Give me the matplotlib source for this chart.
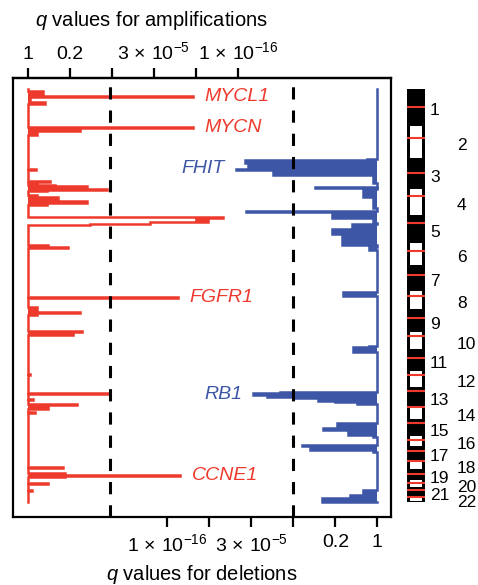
import matplotlib.pyplot as plt
from matplotlib.patches import Rectangle
import numpy as np

plt.rcParams['font.family'] = ['Liberation Sans', 'DejaVu Sans']
plt.rcParams['mathtext.fontset'] = 'custom'
plt.rcParams['mathtext.rm'] = 'Liberation Sans'
plt.rcParams['mathtext.it'] = 'Liberation Sans:italic'

RED = '#EE3A2C'
BLUE = '#3D56A6'

# chromosome sizes and centromeres, Mb
chrom_names = [str(i) for i in range(1, 23)]
chrom_len = [247.2, 242.8, 199.5, 191.3, 180.9, 170.9, 158.8, 146.3, 140.3, 135.4, 134.5,
             132.3, 114.1, 106.4, 100.3, 88.8, 78.8, 76.1, 63.8, 62.4, 46.9, 49.7]
centromere = [124, 93, 91, 50, 48, 60, 59, 45, 49, 40, 53, 35, 17, 17, 19, 36, 24, 17, 26,
              28, 13, 14]

# amplification score profile: segment boundaries (cumulative Mb) and one score per segment
amp_pos = [0, 14, 35, 51, 54, 88, 104, 262, 265, 268, 292, 319, 555, 562, 637, 646, 653, 667,
           673, 691, 698, 708, 736, 750, 778, 792, 805, 887, 894, 910, 923, 934, 941, 1083,
           1100, 1106, 1442, 1449, 1512, 1548, 1555, 1569, 1680, 1687, 1708, 1979, 1985, 2111,
           2115, 2120, 2152, 2158, 2187, 2194, 2222, 2243, 2250, 2622, 2629, 2666, 2680, 2687,
           2694, 2737, 2744, 2784, 2791, 2867]
amp_score = [0, 0.36, 0.05, 3.93, 0.05, 0.40, 0, 1.24, 3.93, 1.24, 0.21, 0, 0.19, 0, 0.52,
             0.21, 0, 0.64, 1.40, 1.88, 0.45, 0, 0.21, 0.71, 1.40, 0.45, 0, 4.64, 4.0, 4.29,
             2.90, 1.48, 0, 0.48, 0.95, 0, 3.57, 0, 0.21, 1.24, 0.21, 0, 1.29, 1.07, 0, 0.05,
             0, 1.93, 1.19, 0, 0.12, 0, 1.17, 0.48, 0, 0.17, 0, 0.83, 0, 0.88, 3.62, 0.88, 0,
             0.48, 0, 0.10, 0]
# broad 5p gain is drawn as an outline only
amp_open = (887, 941)

# deletion score profile
del_pos = [0, 489, 496, 514, 555, 562, 597, 653, 680, 687, 694, 750, 826, 847, 854, 896, 930,
           937, 965, 972, 1007, 1021, 1083, 1095, 1118, 1409, 1437, 1784, 1791, 1824, 2104,
           2113, 2125, 2138, 2147, 2164, 2173, 2187, 2317, 2354, 2368, 2402, 2416, 2472, 2479,
           2506, 2520, 2784, 2819, 2842, 2865, 2867]
del_score = [0, 0.25, 3.15, 3.08, 3.37, 2.49, 0.11, 0, 1.49, 0, 0.35, 0.11, 0, 3.13, 1.08,
             0.11, 0, 0.61, 0.42, 1.08, 0.54, 0.85, 0, 0.20, 0, 0.82, 0, 0.20, 0.59, 0, 2.32,
             2.96, 2.63, 2.00, 1.42, 1.01, 0.49, 0, 0.96, 1.30, 0.70, 0.11, 0, 1.80, 1.61,
             0.11, 0, 0.35, 0.65, 1.32, 0]

# labelled peaks
amp_genes = ['MYCL1', 'MYCN', 'FGFR1', 'CCNE1']
amp_gene_pos = [55, 270, 1446, 2680]
amp_gene_score = [3.93, 3.93, 3.57, 3.62]
del_genes = ['FHIT', 'RB1']
del_gene_pos = [552, 2122]
del_gene_score = [3.37, 2.96]

# q value ticks, same tick positions for both sides
q_ticks = [0, 1, 2, 3, 4, 5]
q_labels = ['1', '0.2', '', r'$3\,\times\,10^{-5}$', '', r'$1\,\times\,10^{-16}$']
amp_cutoff = 1.95
del_cutoff = 2.0
del_origin = 8.32


def step_path(pos, score):
    assert len(pos) == len(score) + 1
    y = np.repeat(pos, 2)[1:-1].astype(float)
    x = np.repeat(score, 2).astype(float)
    return x, y


chrom_start = np.concatenate([[0], np.cumsum(chrom_len)[:-1]])
genome_len = sum(chrom_len)

W, H = 478, 585
fig = plt.figure(figsize=(W / 100, H / 100), dpi=100)
ax = fig.add_axes([13 / W, 1 - 517 / H, 378 / W, 439 / H])
ylim = (2971.6, -76.4)

# amplifications grow to the right from q = 1
x, y = step_path(amp_pos, amp_score)
solid = (y <= amp_open[0]) | (y >= amp_open[1])
ax.fill_betweenx(y, 0, x, where=solid, color=RED, lw=0)
ax.plot(x, y, color=RED, lw=1.8, solid_joinstyle='miter')

# deletions grow to the left from their own q = 1
x, y = step_path(del_pos, del_score)
ax.fill_betweenx(y, del_origin - x, del_origin, color=BLUE, lw=0)
ax.plot(del_origin - x, y, color=BLUE, lw=1.8, solid_joinstyle='miter')

ax.axvline(amp_cutoff, color='black', lw=2.2, linestyle=(0, (4, 3.6)))
ax.axvline(del_origin - del_cutoff, color='black', lw=2.2, linestyle=(0, (4, 3.6)))

for name, p, s in zip(amp_genes, amp_gene_pos, amp_gene_score):
    ax.text(s + 0.28, p, name, color=RED, fontsize=14, style='italic', ha='left', va='center')
for name, p, s in zip(del_genes, del_gene_pos, del_gene_score):
    ax.text(del_origin - s - 0.26, p, name, color=BLUE, fontsize=14, style='italic',
            ha='right', va='center')

ax.set_xlim(-0.357, 8.643)
ax.set_ylim(*ylim)
ax.set_yticks([])
ax.set_xticks([del_origin - t for t in q_ticks], q_labels)
ax.tick_params(axis='x', direction='out', length=7, width=1.6, labelsize=14, pad=5)
for sp in ax.spines.values():
    sp.set_linewidth(1.6)

top = ax.secondary_xaxis('top')
top.set_xticks(q_ticks, q_labels)
top.tick_params(direction='out', length=7, width=1.6, labelsize=14, pad=4)
top.spines['top'].set_linewidth(1.6)

fig.text(151 / W, 1 - 20 / H, r'$q$ values for amplifications', fontsize=14.5,
         ha='center', va='center')
fig.text(202 / W, 1 - 575 / H, r'$q$ values for deletions', fontsize=14.5,
         ha='center', va='center')

# chromosome ideogram
ideo = fig.add_axes([407 / W, 1 - 517 / H, 18 / W, 439 / H])
ideo.set_xlim(0, 1)
ideo.set_ylim(*ylim)
ideo.axis('off')
ideo.add_patch(Rectangle((0, 0), 1, genome_len, color='black', lw=0))
for i, (start, length) in enumerate(zip(chrom_start, chrom_len)):
    if i % 2 == 1:
        ideo.add_patch(Rectangle((0.19, start + 8), 0.62, length - 16, color='white', lw=0))
ideo.hlines(chrom_start + np.array(centromere), 0, 1, color=RED, lw=1.5)
for i, (name, start, length) in enumerate(zip(chrom_names, chrom_start, chrom_len)):
    xpos = 1.28 if i % 2 == 0 else 2.78
    ideo.text(xpos, start + length / 2 + 25, name, fontsize=12.5, ha='left', va='center',
              clip_on=False)

fig.savefig('out.png', dpi=100)
